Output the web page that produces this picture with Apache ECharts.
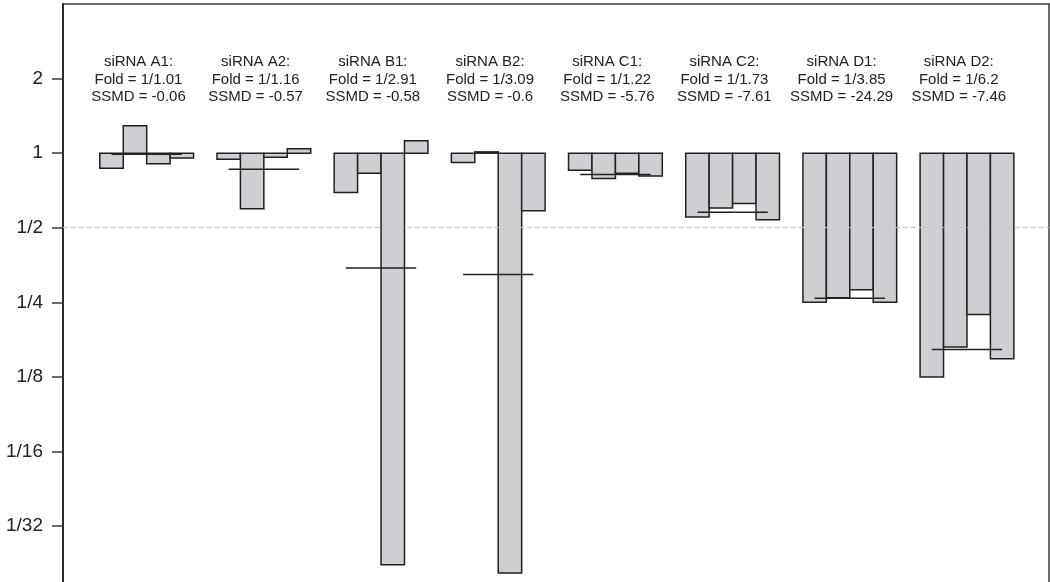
<!DOCTYPE html>
<html>
<head>
<meta charset="utf-8">
<title>siRNA knockdown fold change</title>
<script src="https://cdn.jsdelivr.net/npm/echarts@6/dist/echarts.min.js"></script>
<style>
  html, body { margin: 0; padding: 0; background: #ffffff; }
  #chart { width: 1050px; height: 582px; }
</style>
</head>
<body>
<div id="chart"></div>
<script>
// siRNA names, one group of four replicate wells each
const groups = ['A1', 'A2', 'B1', 'B2', 'C1', 'C2', 'D1', 'D2'];

// Fold change of each replicate relative to control (1 = no change)
const replicate1 = [0.870, 0.946, 0.694, 0.916, 0.854, 0.552, 0.250, 0.125];
const replicate2 = [1.289, 0.596, 0.830, 1.012, 0.790, 0.600, 0.261, 0.165];
const replicate3 = [0.906, 0.963, 0.0218, 0.0202, 0.830, 0.626, 0.281, 0.223];
const replicate4 = [0.955, 1.041, 1.121, 0.585, 0.808, 0.538, 0.250, 0.148];

// Summary per siRNA: mean fold written as 1/x, and SSMD
const foldDenominators = [1.01, 1.16, 2.91, 3.09, 1.22, 1.73, 3.85, 6.2];
const ssmd = [-0.06, -0.57, -0.58, -0.6, -5.76, -7.61, -24.29, -7.46];

// Log2 axis ticks and their fold labels
const tickValues = [1, 0, -1, -2, -3, -4, -5];
const tickLabels = ['2', '1', '1/2', '1/4', '1/8', '1/16', '1/32'];

const FONT = '"Liberation Sans", Arial, Helvetica, sans-serif';
const replicates = [replicate1, replicate2, replicate3, replicate4];
const SLOTS_PER_GROUP = 5; // four bars plus one gap
const Y_MIN = -5.75;
const Y_MAX = 2;

const barData = [];
groups.forEach((g, gi) => {
  replicates.forEach((rep, ri) => {
    barData.push([gi * SLOTS_PER_GROUP + ri, Math.log2(rep[gi])]);
  });
});

const meanData = groups.map((g, gi) => [
  gi * SLOTS_PER_GROUP + 0.5,
  Math.log2(1 / foldDenominators[gi]),
  gi * SLOTS_PER_GROUP + 3.5
]);

const labelData = groups.map((g, gi) => [gi * SLOTS_PER_GROUP + 1.65, 0.985, gi]);

const chart = echarts.init(document.getElementById('chart'), null, { renderer: 'canvas' });

const frameLine = { color: '#3a3a3a', width: 1.5 };

chart.setOption({
  animation: false,
  backgroundColor: '#ffffff',
  grid: {
    left: 63,
    top: 4,
    right: 1,
    bottom: 0,
    show: false
  },
  xAxis: {
    type: 'value',
    min: -1.57,
    max: 40.5,
    position: 'top',
    axisLine: { show: true, onZero: false, lineStyle: frameLine },
    axisTick: { show: false },
    axisLabel: { show: false },
    splitLine: { show: false }
  },
  yAxis: [
    {
      type: 'value',
      min: Y_MIN,
      max: Y_MAX,
      position: 'left',
      splitLine: { show: false },
      axisLine: { show: true, onZero: false, lineStyle: { color: '#2b2b2b', width: 2 } },
      axisTick: {
        show: true,
        length: 11,
        customValues: tickValues,
        lineStyle: { color: '#3a3a3a', width: 1.5 }
      },
      axisLabel: {
        customValues: tickValues,
        margin: 20,
        fontSize: 19,
        fontFamily: FONT,
        color: '#222222',
        formatter: function (v) {
          const i = tickValues.indexOf(v);
          return i >= 0 ? tickLabels[i] : '';
        }
      }
    },
    {
      type: 'value',
      min: Y_MIN,
      max: Y_MAX,
      position: 'right',
      splitLine: { show: false },
      axisLine: { show: true, onZero: false, lineStyle: frameLine },
      axisTick: { show: false },
      axisLabel: { show: false }
    }
  ],
  series: [
    {
      name: 'replicates',
      type: 'custom',
      clip: false,
      data: barData,
      encode: { x: 0, y: 1 },
      renderItem: function (params, api) {
        const s = api.value(0);
        const v = api.value(1);
        const p0 = api.coord([s, 0]);
        const p1 = api.coord([s + 1, v]);
        return {
          type: 'rect',
          shape: {
            x: p0[0],
            y: Math.min(p0[1], p1[1]),
            width: p1[0] - p0[0],
            height: Math.abs(p1[1] - p0[1])
          },
          style: { fill: '#cdcfd2', stroke: '#202020', lineWidth: 1.5 }
        };
      }
    },
    {
      name: 'mean fold',
      type: 'custom',
      clip: false,
      data: meanData,
      encode: { x: [0, 2], y: 1 },
      renderItem: function (params, api) {
        const a = api.coord([api.value(0), api.value(1)]);
        const b = api.coord([api.value(2), api.value(1)]);
        return {
          type: 'line',
          shape: { x1: a[0], y1: a[1], x2: b[0], y2: b[1] },
          style: { stroke: '#222222', lineWidth: 1.5 }
        };
      },
      markLine: {
        silent: true,
        symbol: 'none',
        label: { show: false },
        lineStyle: { type: [5, 3], color: '#c6c6c6', width: 1.2 },
        data: [{ yAxis: -1 }]
      }
    },
    {
      name: 'labels',
      type: 'custom',
      clip: false,
      data: labelData,
      encode: { x: 0, y: 1 },
      renderItem: function (params, api) {
        const gi = api.value(2);
        const p = api.coord([api.value(0), api.value(1)]);
        return {
          type: 'text',
          x: p[0],
          y: p[1],
          style: {
            text: 'siRNA ' + groups[gi] + ':\nFold = 1/' + foldDenominators[gi] +
                  '\nSSMD = ' + ssmd[gi],
            fill: '#222222',
            fontSize: 15,
            fontFamily: FONT,
            align: 'center',
            verticalAlign: 'middle',
            lineHeight: 17.5
          }
        };
      }
    }
  ]
});
</script>
</body>
</html>
